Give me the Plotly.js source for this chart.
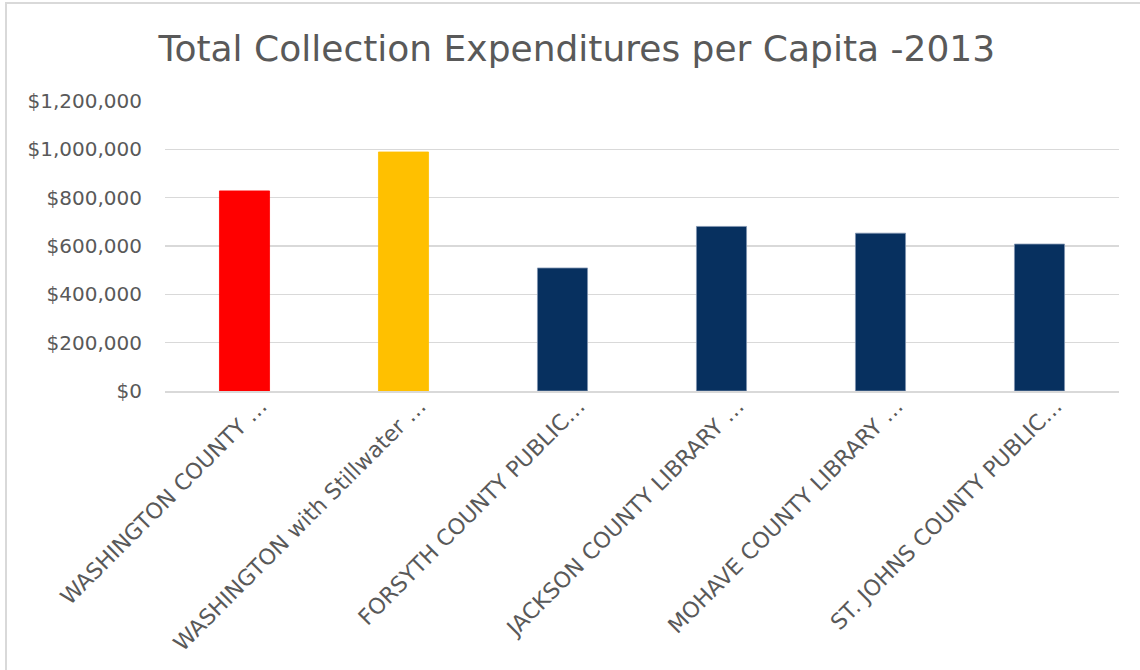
<!DOCTYPE html>
<html>
<head>
<meta charset="utf-8">
<script src="https://cdn.plot.ly/plotly-3.0.1.min.js"></script>
<style>
  html, body { margin: 0; padding: 0; background: #ffffff; }
  #wrap { position: relative; width: 1140px; height: 670px; overflow: hidden; }
  #chart { position: absolute; left: 0; top: 0; width: 1140px; height: 670px; }
  #frame { position: absolute; left: 5px; top: 2px; width: 1200px; height: 800px;
           border-left: 2px solid #d9d9d9; border-top: 2px solid #d9d9d9; pointer-events: none; }
</style>
</head>
<body>
<div id="wrap">
  <div id="chart"></div>
  <div id="frame"></div>
</div>
<script>
const categories = [
  "WASHINGTON COUNTY …",
  "WASHINGTON with Stillwater …",
  "FORSYTH COUNTY PUBLIC…",
  "JACKSON COUNTY LIBRARY …",
  "MOHAVE COUNTY LIBRARY …",
  "ST. JOHNS COUNTY PUBLIC…"
];
const expenditures = [828000, 989000, 509000, 681000, 653000, 608000];
const barColors = ["#FF0000", "#FFC000", "#07305F", "#07305F", "#07305F", "#07305F"];
const barEdges = ["#FF0000", "#FFC000", "#7f93b0", "#7f93b0", "#7f93b0", "#7f93b0"];
const yTickValues = [0, 200000, 400000, 600000, 800000, 1000000, 1200000];

const FONT = "'DejaVu Sans', sans-serif";
const TEXT = "#595959";

const trace = {
  type: "bar",
  x: categories,
  y: expenditures,
  marker: { color: barColors, line: { color: barEdges, width: 0.8 } },
  hoverinfo: "skip"
};

const layout = {
  width: 1140,
  height: 670,
  margin: { l: 165, r: 21, t: 101, b: 279, pad: 0 },
  paper_bgcolor: "#ffffff",
  plot_bgcolor: "#ffffff",
  showlegend: false,
  bargap: 0.685,
  font: { family: FONT, color: TEXT },
  title: {
    text: "Total Collection Expenditures per Capita -2013",
    font: { family: FONT, size: 36, color: TEXT },
    x: 0.506, xanchor: "center", xref: "container",
    y: 0.928, yanchor: "middle", yref: "container"
  },
  xaxis: {
    type: "category",
    tickangle: -45,
    tickfont: { family: FONT, size: 22, color: TEXT },
    showgrid: false,
    showline: true,
    linecolor: "#d9d9d9",
    linewidth: 1.5,
    ticks: "",
    ticklabelshift: 16,
    ticklabelstandoff: -8,
    automargin: false
  },
  yaxis: {
    range: [0, 1200000],
    tickvals: yTickValues,
    tickformat: "$,.0f",
    tickfont: { family: FONT, size: 20, color: TEXT },
    showgrid: true,
    gridcolor: "#d9d9d9",
    gridwidth: 1.5,
    zeroline: false,
    showline: false,
    ticks: "",
    ticklabelstandoff: 22,
    automargin: false
  }
};

Plotly.newPlot("chart", [trace], layout, { displayModeBar: false, staticPlot: true });
</script>
</body>
</html>
